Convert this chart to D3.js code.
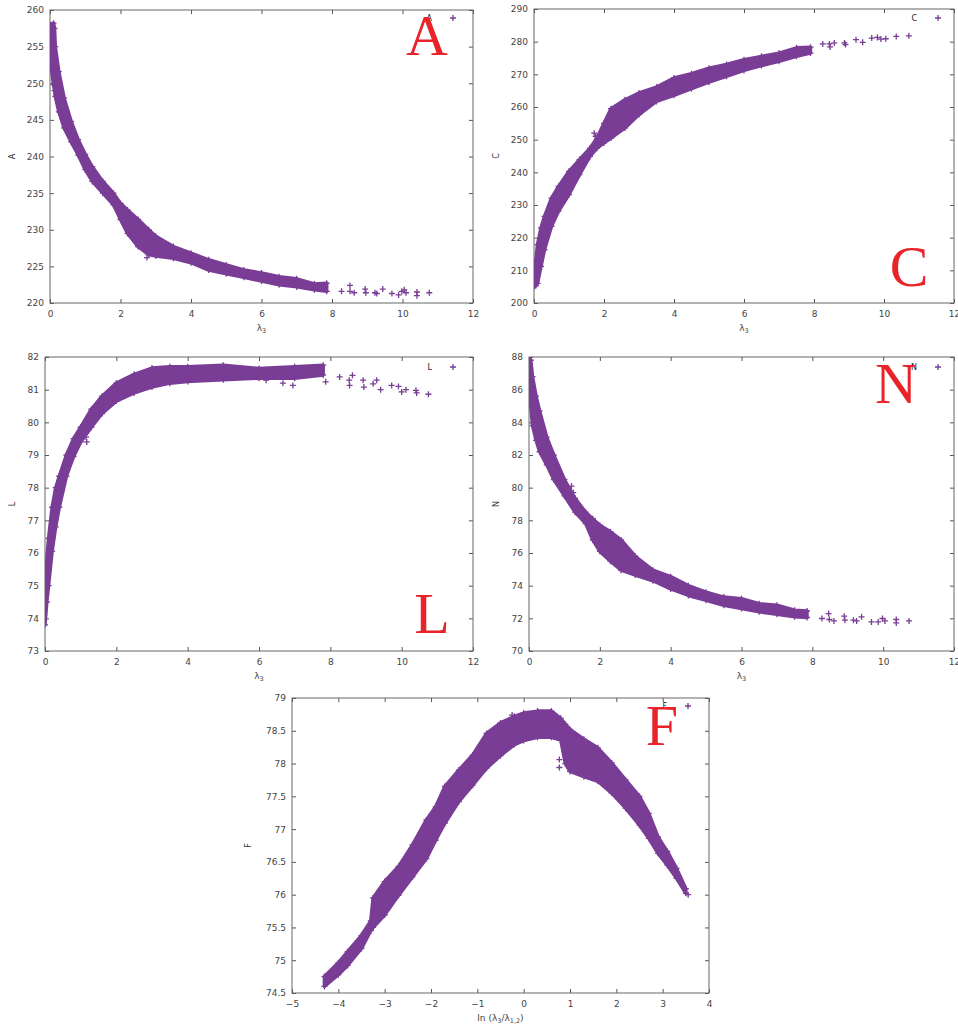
<!DOCTYPE html>
<html>
<head>
<meta charset="utf-8">
<script src="https://cdn.jsdelivr.net/npm/d3@7"></script>
<style>
  html, body { margin: 0; padding: 0; background: #fff; }
  svg { display: block; }
</style>
</head>
<body>
<svg id="chart" width="958" height="1025"></svg>
<script>
// ---------------- DATA ----------------
// Panel A
const aXTicks = [0, 2, 4, 6, 8, 10, 12];
const aYTicks = [220, 225, 230, 235, 240, 245, 250, 255, 260];
const aBandX  = [0, 0.03, 0.1, 0.13, 0.15, 0.25, 0.4, 0.6, 0.8, 1.0, 1.2, 1.5, 1.8, 2.0, 2.2, 2.5, 2.8, 3.0, 3.5, 4.0, 4.5, 5.0, 5.5, 6.0, 6.5, 7.0, 7.5, 7.85];
const aBandLo = [255, 252.3, 249.8, 249.0, 248.2, 246.1, 243.9, 242, 240.2, 238.2, 236.6, 235, 233.4, 231.4, 229.5, 227.7, 226.6, 226.4, 226.1, 225.5, 224.5, 224, 223.5, 223, 222.5, 222.2, 221.8, 221.6];
const aBandHi = [258, 258, 258.2, 257.5, 255, 251.6, 248, 244.8, 242.3, 240.3, 238.6, 236.6, 235, 233.6, 232.7, 231.4, 230, 229.1, 227.7, 226.8, 225.9, 225.2, 224.5, 224.1, 223.6, 223.3, 222.6, 222.7];
const aOutX = [8.27, 8.51, 8.51, 8.63, 8.94, 8.96, 9.22, 9.27, 9.44, 9.70, 9.89, 9.98, 10.05, 10.10, 10.41, 10.41, 10.76, 1.17, 1.22, 2.75];
const aOutY = [221.6, 222.4, 221.6, 221.4, 221.9, 221.4, 221.4, 221.3, 221.9, 221.3, 221.1, 221.6, 221.8, 221.4, 221.5, 221.0, 221.4, 238.0, 237.4, 226.2];

// Panel C
const cXTicks = [0, 2, 4, 6, 8, 10, 12];
const cYTicks = [200, 210, 220, 230, 240, 250, 260, 270, 280, 290];
const cBandX  = [0, 0.05, 0.1, 0.2, 0.3, 0.5, 0.7, 1.0, 1.3, 1.6, 1.8, 2.0, 2.2, 2.6, 3.0, 3.5, 4.0, 4.5, 5.0, 5.5, 6.0, 6.5, 7.0, 7.5, 7.9];
const cBandLo = [205, 205.3, 206, 211.2, 216.3, 223.5, 228.1, 233.2, 239.3, 244.9, 247.4, 249, 250.5, 253.6, 257.7, 261.7, 263.6, 265.6, 267.6, 269.4, 271.2, 272.7, 274, 275.5, 276.5];
const cBandHi = [209, 213, 217.9, 223, 226.5, 232.1, 235.7, 240.3, 243.9, 247.4, 250.5, 255, 259.5, 262.2, 264.3, 266.1, 268.9, 270.2, 271.9, 273, 274.5, 275.5, 276.5, 278.1, 278.3];
const cOutX = [8.25, 8.44, 8.46, 8.58, 8.87, 8.90, 9.20, 9.39, 9.65, 9.81, 9.91, 10.05, 10.35, 10.71, 1.72, 1.76, 1.15];
const cOutY = [279.3, 279.3, 278.4, 279.6, 279.6, 279.1, 280.6, 279.8, 281.1, 281.3, 280.8, 280.9, 281.6, 281.8, 252.0, 251.0, 240.0];

// Panel L
const lXTicks = [0, 2, 4, 6, 8, 10, 12];
const lYTicks = [73, 74, 75, 76, 77, 78, 79, 80, 81, 82];
const lBandX  = [0, 0.05, 0.1, 0.2, 0.3, 0.4, 0.6, 0.8, 1.0, 1.3, 1.6, 2.0, 2.5, 3.0, 3.5, 4.0, 5.0, 6.0, 7.0, 7.8];
const lBandLo = [73.8, 74.5, 75.0, 76.05, 76.8, 77.4, 78.35, 78.95, 79.4, 79.85, 80.27, 80.65, 80.9, 81.08, 81.2, 81.25, 81.3, 81.35, 81.35, 81.45];
const lBandHi = [74.8, 75.8, 76.45, 77.4, 78.0, 78.35, 79.0, 79.5, 79.85, 80.4, 80.8, 81.2, 81.47, 81.66, 81.7, 81.7, 81.75, 81.65, 81.7, 81.75];
const lOutX = [7.87, 8.26, 8.53, 8.54, 8.62, 8.92, 8.94, 9.20, 9.30, 9.41, 9.72, 9.91, 10.0, 10.12, 10.40, 10.42, 10.75, 6.95, 6.67, 6.2, 1.17, 1.15];
const lOutY = [81.24, 81.39, 81.29, 81.13, 81.44, 81.29, 81.08, 81.18, 81.29, 81.0, 81.13, 81.1, 80.93, 81.0, 80.98, 80.9, 80.86, 81.13, 81.2, 81.29, 79.4, 79.55];

// Panel N
const nXTicks = [0, 2, 4, 6, 8, 10, 12];
const nYTicks = [70, 72, 74, 76, 78, 80, 82, 84, 86, 88];
const nBandX  = [0, 0.05, 0.1, 0.2, 0.3, 0.5, 0.7, 1.0, 1.3, 1.6, 1.8, 2.0, 2.3, 2.6, 3.0, 3.5, 4.0, 4.5, 5.0, 5.5, 6.0, 6.5, 7.0, 7.5, 7.85];
const nBandLo = [86.5, 85.0, 83.8, 82.9, 82.2, 81.4, 80.5, 79.5, 78.5, 77.8, 76.8, 76.1, 75.5, 74.95, 74.65, 74.3, 73.8, 73.4, 73.1, 72.8, 72.6, 72.4, 72.25, 72.1, 72.05];
const nBandHi = [87.9, 87.8, 86.8, 85.6, 84.7, 83.1, 82.0, 80.5, 79.35, 78.5, 78.1, 77.7, 77.3, 76.8, 75.8, 74.95, 74.55, 74.0, 73.6, 73.3, 73.2, 72.9, 72.8, 72.5, 72.45];
const nOutX = [8.27, 8.46, 8.48, 8.61, 8.90, 8.92, 9.16, 9.25, 9.39, 9.67, 9.86, 9.98, 10.05, 10.37, 10.37, 10.73, 1.2, 1.25];
const nOutY = [71.99, 72.29, 71.93, 71.84, 72.13, 71.89, 71.89, 71.84, 72.09, 71.78, 71.78, 71.99, 71.84, 71.93, 71.72, 71.84, 80.1, 79.7];

// Panel F
const fXTicks = [-5, -4, -3, -2, -1, 0, 1, 2, 3, 4];
const fYTicks = [74.5, 75, 75.5, 76, 76.5, 77, 77.5, 78, 78.5, 79];
const fBandX  = [-4.3, -4.0, -3.8, -3.5, -3.3, -3.25, -3.0, -2.7, -2.4, -2.1, -1.9, -1.7, -1.4, -1.1, -0.8, -0.5, -0.2, 0.0, 0.3, 0.6, 0.8, 0.9, 1.0, 1.3, 1.6, 1.9, 2.2, 2.5, 2.7, 2.9, 3.1, 3.3, 3.5];
const fBandLo = [74.6, 74.78, 74.92, 75.18, 75.45, 75.5, 75.69, 75.99, 76.27, 76.55, 76.83, 77.09, 77.42, 77.67, 77.93, 78.12, 78.29, 78.35, 78.4, 78.4, 78.36, 78.0, 77.88, 77.8, 77.73, 77.55, 77.32, 77.06, 76.86, 76.63, 76.45, 76.25, 76.02];
const fBandHi = [74.75, 74.96, 75.13, 75.38, 75.6, 75.95, 76.2, 76.43, 76.76, 77.14, 77.34, 77.65, 77.9, 78.13, 78.46, 78.62, 78.72, 78.77, 78.8, 78.8, 78.69, 78.6, 78.52, 78.37, 78.24, 78.01, 77.75, 77.5, 77.24, 76.88, 76.66, 76.4, 76.09];
const fOutX = [0.77, 0.77, -0.25, 3.55, -4.25, -3.95];
const fOutY = [78.06, 77.94, 78.74, 76.0, 74.72, 74.88];

// ---------------- DRAWING ----------------
const svg = d3.select("#chart");
const PURPLE = "#7a3d96";
const RED = "#e8232a";
const FONT = "'DejaVu Sans', sans-serif";

function plusPath(s) {
  return `M${-s},0H${s}M0,${-s}V${s}`;
}

function drawPanel(p) {
  const x = d3.scaleLinear().domain(p.xDomain).range([p.left, p.right]);
  const y = d3.scaleLinear().domain(p.yDomain).range([p.bottom, p.top]);
  const g = svg.append("g");
  const clipId = "clip" + p.id;
  svg.append("clipPath").attr("id", clipId).append("rect")
    .attr("x", p.left).attr("y", p.top)
    .attr("width", p.right - p.left).attr("height", p.bottom - p.top);

  const styleAxis = sel => {
    sel.select(".domain").remove();
    sel.selectAll("line").attr("stroke", "#555").attr("stroke-width", 1);
    sel.selectAll("text").attr("fill", "#444").style("font-family", FONT).style("font-size", "9px");
  };
  g.append("g").attr("transform", `translate(0,${p.bottom})`)
    .call(d3.axisBottom(x).tickValues(p.xTicks).tickSizeInner(-4).tickSizeOuter(0).tickPadding(8).tickFormat(d3.format("d")))
    .call(styleAxis);
  g.append("g").attr("transform", `translate(0,${p.top})`)
    .call(d3.axisTop(x).tickValues(p.xTicks).tickSizeInner(-4).tickSizeOuter(0).tickFormat(""))
    .call(styleAxis);
  g.append("g").attr("transform", `translate(${p.left},0)`)
    .call(d3.axisLeft(y).tickValues(p.yTicks).tickSizeInner(-4).tickSizeOuter(0).tickPadding(6).tickFormat(p.yFormat))
    .call(styleAxis);
  g.append("g").attr("transform", `translate(${p.right},0)`)
    .call(d3.axisRight(y).tickValues(p.yTicks).tickSizeInner(-4).tickSizeOuter(0).tickFormat(""))
    .call(styleAxis);

  g.append("rect").attr("x", p.left).attr("y", p.top)
    .attr("width", p.right - p.left).attr("height", p.bottom - p.top)
    .attr("fill", "none").attr("stroke", "#666").attr("stroke-width", 1);

  const plot = g.append("g").attr("clip-path", `url(#${clipId})`);
  const band = p.bandX.map((v, i) => ({ x: v, lo: p.bandLo[i], hi: p.bandHi[i] }));
  const area = d3.area().x(d => x(d.x)).y0(d => y(d.lo)).y1(d => y(d.hi)).curve(d3.curveLinear);
  plot.append("path").datum(band).attr("d", area)
    .attr("fill", PURPLE).attr("stroke", PURPLE).attr("stroke-width", 3.5).attr("stroke-linejoin", "round");

  const edgePts = band.flatMap(d => [{ x: d.x, y: d.lo }, { x: d.x, y: d.hi }]);
  const outPts = p.outX.map((v, i) => ({ x: v, y: p.outY[i] }));
  plot.selectAll("path.pt").data(edgePts.concat(outPts)).join("path")
    .attr("class", "pt")
    .attr("transform", d => `translate(${x(d.x)},${y(d.y)})`)
    .attr("d", plusPath(3))
    .attr("stroke", PURPLE).attr("stroke-width", 1.3).attr("fill", "none");

  // key
  svg.append("text").attr("x", p.keyX).attr("y", p.keyY)
    .attr("text-anchor", "end")
    .style("font-family", FONT).style("font-size", "8px").attr("fill", "#222").text(p.name);
  svg.append("path").attr("transform", `translate(${p.keyX + 21},${p.keyY - 3})`)
    .attr("d", plusPath(3)).attr("stroke", PURPLE).attr("stroke-width", 1.3);

  // y label
  svg.append("text")
    .attr("transform", `translate(${p.yLabelX},${(p.top + p.bottom) / 2}) rotate(-90)`)
    .attr("text-anchor", "middle")
    .style("font-family", FONT).style("font-size", "8px").attr("fill", "#333").text(p.name);

  // x label
  const xl = svg.append("text").attr("x", (p.left + p.right) / 2).attr("y", p.bottom + 28)
    .attr("text-anchor", "middle").style("font-family", FONT).style("font-size", "9px").attr("fill", "#444");
  p.xLabel.forEach(part => {
    const t = xl.append("tspan").text(part.t);
    if (part.sub) t.style("font-size", "6.5px").attr("dy", 2);
    else if (part.up) t.attr("dy", -2);
  });

  // big red letter
  svg.append("text").attr("x", p.bigX).attr("y", p.bigY)
    .attr("text-anchor", "middle")
    .style("font-family", "'Liberation Serif', 'DejaVu Serif', serif")
    .style("font-size", "58px").attr("fill", RED).text(p.name);
}

const lamLabel = [{ t: "λ" }, { t: "3", sub: true }];
const lnLabel = [{ t: "ln (λ" }, { t: "3", sub: true }, { t: "/λ", up: true }, { t: "1,2", sub: true }, { t: ")", up: true }];

drawPanel({ id: "A", name: "A", left: 50, right: 473, top: 10, bottom: 303,
  xDomain: [0, 12], yDomain: [220, 260], xTicks: aXTicks, yTicks: aYTicks, yFormat: d3.format("d"),
  bandX: aBandX, bandLo: aBandLo, bandHi: aBandHi, outX: aOutX, outY: aOutY,
  keyX: 432, keyY: 21, yLabelX: 15, xLabel: lamLabel, bigX: 427, bigY: 55 });

drawPanel({ id: "C", name: "C", left: 534, right: 954, top: 9, bottom: 303,
  xDomain: [0, 12], yDomain: [200, 290], xTicks: cXTicks, yTicks: cYTicks, yFormat: d3.format("d"),
  bandX: cBandX, bandLo: cBandLo, bandHi: cBandHi, outX: cOutX, outY: cOutY,
  keyX: 917, keyY: 21, yLabelX: 499, xLabel: lamLabel, bigX: 909, bigY: 286 });

drawPanel({ id: "L", name: "L", left: 45, right: 473, top: 357, bottom: 651,
  xDomain: [0, 12], yDomain: [73, 82], xTicks: lXTicks, yTicks: lYTicks, yFormat: d3.format("d"),
  bandX: lBandX, bandLo: lBandLo, bandHi: lBandHi, outX: lOutX, outY: lOutY,
  keyX: 432, keyY: 370, yLabelX: 15, xLabel: lamLabel, bigX: 432, bigY: 633 });

drawPanel({ id: "N", name: "N", left: 529, right: 954, top: 357, bottom: 651,
  xDomain: [0, 12], yDomain: [70, 88], xTicks: nXTicks, yTicks: nYTicks, yFormat: d3.format("d"),
  bandX: nBandX, bandLo: nBandLo, bandHi: nBandHi, outX: nOutX, outY: nOutY,
  keyX: 917, keyY: 370, yLabelX: 499, xLabel: lamLabel, bigX: 896, bigY: 403 });

drawPanel({ id: "F", name: "F", left: 292, right: 709, top: 698, bottom: 993,
  xDomain: [-5, 4], yDomain: [74.5, 79], xTicks: fXTicks, yTicks: fYTicks, yFormat: d3.format("~g"),
  bandX: fBandX, bandLo: fBandLo, bandHi: fBandHi, outX: fOutX, outY: fOutY,
  keyX: 667, keyY: 709, yLabelX: 251, xLabel: lnLabel, bigX: 662, bigY: 745 });
</script>
</body>
</html>
